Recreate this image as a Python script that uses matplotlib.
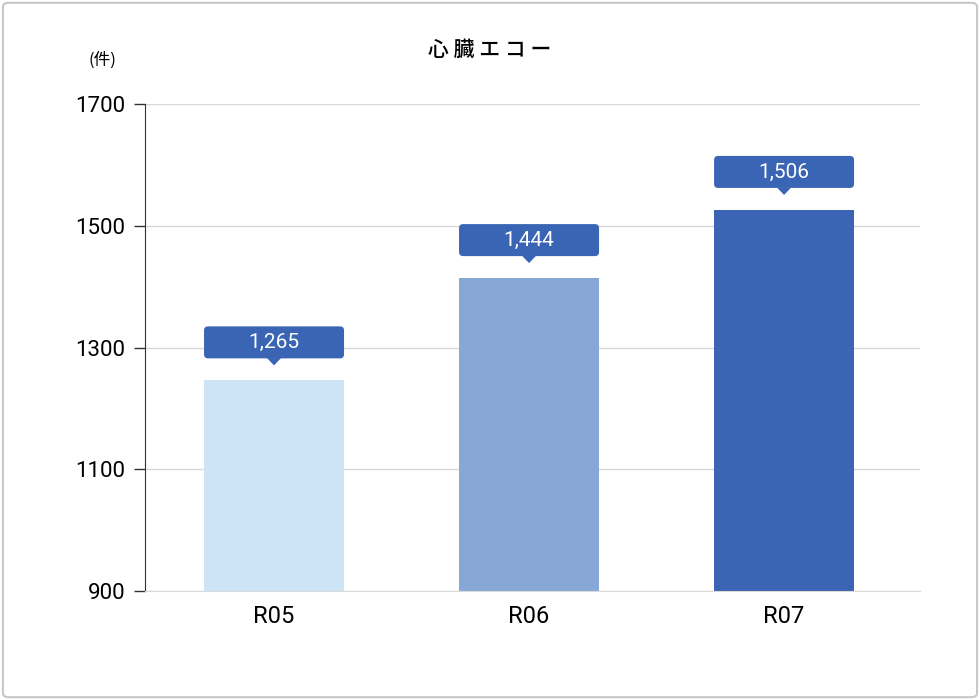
import matplotlib
matplotlib.use("Agg")
import matplotlib.pyplot as plt
from matplotlib.patches import FancyBboxPatch, Polygon

categories = ["R05", "R06", "R07"]
values = [1265, 1444, 1506]
bar_heights = [1246, 1414, 1526]  # heights as drawn in the reference
colors = ["#cce4f6", "#87a8d6", "#3c64b4"]
yticks = [900, 1100, 1300, 1500, 1700]

plt.rcParams['font.family'] = ['Noto Sans CJK JP', 'DejaVu Sans']
fig = plt.figure(figsize=(9.8, 7), dpi=100)
fig.patches.append(FancyBboxPatch((0.003, 0.004), 0.994, 0.992, boxstyle="round,pad=0,rounding_size=0.006",
                                  transform=fig.transFigure, fc="white", ec="#c8c8c8", lw=1.5, zorder=-10))
ax = fig.add_axes([145/980, 1-591/700, 775/980, 487/700])
ax.set_facecolor("none")
ax.set_xlim(-0.506, 2.533)
x = range(len(categories))
ax.bar(x, bar_heights, width=0.55, color=colors, zorder=2, bottom=0)
ax.set_ylim(900, 1700)
ax.set_yticks(yticks)
ax.set_yticklabels([str(t) for t in yticks], fontsize=16, family=['Roboto', 'DejaVu Sans'])
ax.set_xticks(list(x))
ax.set_xticklabels(categories, fontsize=17, family=['Roboto', 'DejaVu Sans'])
ax.tick_params(axis='x', length=0, pad=10)
ax.tick_params(axis='y', length=8, width=1, color='#333333', pad=6)
ax.grid(axis='y', color='#d8d8d8', lw=1, zorder=0)
for s in ['top', 'right']:
    ax.spines[s].set_visible(False)
ax.spines['left'].set_color('#333333')
ax.spines['bottom'].set_color('#d8d8d8')

upx_y = 800/487
upx_x = 1/255
box_c = "#3a64b4"
for i, (h, v) in enumerate(zip(bar_heights, values)):
    b0 = h + 22*upx_y
    bh = 32*upx_y
    bw = 140*upx_x
    ax.add_patch(FancyBboxPatch((i-bw/2, b0), bw, bh, boxstyle="round,pad=0,rounding_size=0.016",
                                mutation_aspect=upx_y/upx_x, fc=box_c, ec="none", zorder=3, clip_on=False))
    ax.add_patch(Polygon([(i-7*upx_x, b0+0.5), (i+7*upx_x, b0+0.5), (i, b0-7*upx_y)],
                         closed=True, fc=box_c, ec="none", zorder=3, clip_on=False))
    ax.text(i, b0+bh/2, f"{v:,}", ha='center', va='center', color='white', fontsize=15,
            family=['Roboto', 'DejaVu Sans'], zorder=4)

fig.text(490/980, 1-50/700, "心 臓 エ コ ー", ha='center', va='center', fontsize=15, fontweight='medium')
fig.text(102/980, 1-60/700, "(件)", ha='center', va='center', fontsize=12)
fig.savefig("out.png", dpi=100)
